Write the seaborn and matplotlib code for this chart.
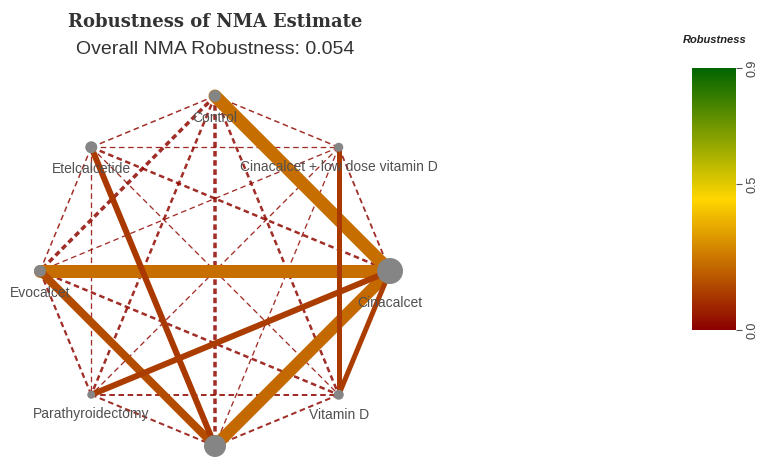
import numpy as np
import pandas as pd
import matplotlib
matplotlib.use("Agg")
import matplotlib.pyplot as plt
import seaborn as sns
from matplotlib.colors import LinearSegmentedColormap, Normalize
import matplotlib as mpl

# nodes, clockwise from the top
treatments = ["Control", "Cinacalcet + low dose vitamin D", "Cinacalcet", "Vitamin D",
              "", "Parathyroidectomy", "Evocalcet", "Etelcalcetide"]
node_weight = [6, 4.5, 13, 5, 11, 4, 6, 6]

# direct comparisons (solid)
direct_from = ["Control", "Evocalcet", "", "Evocalcet", "Etelcalcetide",
               "Parathyroidectomy", "Cinacalcet + low dose vitamin D", "Vitamin D"]
direct_to = ["Cinacalcet", "Cinacalcet", "Cinacalcet", "", "",
             "Cinacalcet", "Vitamin D", "Cinacalcet"]
direct_robust = [0.23, 0.23, 0.22, 0.16, 0.12, 0.13, 0.12, 0.13]
direct_weight = [13, 13, 12, 8, 6, 6, 5, 5]

# indirect comparisons (dashed)
indirect_from = ["Control", "Control", "Control", "Control", "Control", "Control",
                 "Etelcalcetide", "Etelcalcetide", "Etelcalcetide", "Etelcalcetide", "Etelcalcetide",
                 "Cinacalcet + low dose vitamin D", "Cinacalcet + low dose vitamin D",
                 "Cinacalcet + low dose vitamin D", "Cinacalcet + low dose vitamin D",
                 "Evocalcet", "Evocalcet", "Parathyroidectomy", "Parathyroidectomy", "Vitamin D"]
indirect_to = ["", "Evocalcet", "Parathyroidectomy", "Vitamin D", "Etelcalcetide",
               "Cinacalcet + low dose vitamin D",
               "Cinacalcet + low dose vitamin D", "Cinacalcet", "Vitamin D", "Evocalcet",
               "Parathyroidectomy",
               "Evocalcet", "Parathyroidectomy", "", "Cinacalcet",
               "Vitamin D", "Parathyroidectomy", "", "Vitamin D", ""]
indirect_robust = [0.02] * 20
indirect_weight = [3.5, 3.5, 2.5, 2.5, 1.5, 1.5,
                   1.3, 2.5, 1.3, 1.5, 1.3,
                   1.3, 1.3, 1.3, 1.8,
                   2.5, 2.2, 2.0, 2.0, 2.0]

overall = 0.054

sns.set_theme(style="white")
plt.rcParams["font.family"] = ["Liberation Sans", "DejaVu Sans"]
plt.rcParams["lines.scale_dashes"] = False

cmap = LinearSegmentedColormap.from_list("rob", ["#8B0000", "#FFD700", "#006400"])
norm = Normalize(0, 0.9)

W, H = 763, 458
fig = plt.figure(figsize=(W / 100, H / 100), dpi=100)
R = 175  # px per unit
cx, cy = 215, 271
ax = fig.add_axes([(cx - 1.3 * R) / W, (H - cy - 1.3 * R) / H, 2.6 * R / W, 2.6 * R / H])
ax.set_xlim(-1.3, 1.3)
ax.set_ylim(-1.3, 1.3)
ax.axis("off")

ang = np.pi / 2 - np.arange(len(treatments)) * np.pi / 4
nodes = pd.DataFrame({"name": treatments, "x": np.cos(ang), "y": np.sin(ang),
                      "w": node_weight})
pos = {n: (x, y) for n, x, y in zip(nodes.name, nodes.x, nodes.y)}

px = 0.72
for a, b, r, w in zip(indirect_from, indirect_to, indirect_robust, indirect_weight):
    (x1, y1), (x2, y2) = pos[a], pos[b]
    ax.plot([x1, x2], [y1, y2], color=cmap(norm(r)), lw=w * px, alpha=0.85,
            dashes=(4, 2.6), zorder=1)

for a, b, r, w in zip(direct_from, direct_to, direct_robust, direct_weight):
    (x1, y1), (x2, y2) = pos[a], pos[b]
    ax.plot([x1, x2], [y1, y2], color=cmap(norm(r)), lw=w * px,
            solid_capstyle="round", zorder=2)

sizes = [(2 * r * px) ** 2 for r in node_weight]
sns.scatterplot(data=nodes, x="x", y="y", size="w", sizes=(min(sizes), max(sizes)),
                size_norm=(min(node_weight), max(node_weight)),
                color="#858585", edgecolor="none", legend=False, zorder=3, ax=ax)
# seaborn maps linearly between min/max sizes; set exact areas
ax.collections[-1].set_sizes(sizes)
ax.set_xlabel("")
ax.set_ylabel("")

for n, x, y, r in zip(nodes.name, nodes.x, nodes.y, nodes.w):
    if not n:
        continue
    ax.annotate(n, (x, y), xytext=(0, -(14 + 1.35 * r) * px), textcoords="offset points",
                ha="center", va="center", fontsize=10, color="#505050", zorder=4)

fig.text(cx / W, 1 - 22 / H, "Robustness of NMA Estimate", ha="center", va="center",
         fontsize=13, fontweight="bold", family="DejaVu Serif", color="#333333")
fig.text(cx / W, 1 - 49 / H, f"Overall NMA Robustness: {overall:.3f}", ha="center",
         va="center", fontsize=14, color="#333333")

cax = fig.add_axes([692 / W, (H - 330) / H, 44 / W, 262 / H])
cb = mpl.colorbar.ColorbarBase(cax, cmap=cmap, norm=norm, ticks=[0, 0.5, 0.9])
cb.outline.set_visible(False)
cb.set_ticklabels(["0.0", "0.5", "0.9"])
cax.tick_params(axis="y", length=4, width=0.8, color="#555555", labelsize=9,
                labelcolor="#444444", labelrotation=90, right=True)
for t in cax.get_yticklabels():
    t.set_va("center")
fig.text(715 / W, 1 - 40 / H, "Robustness", ha="center", va="center", fontsize=8,
         fontweight="bold", fontstyle="italic", color="#222222")

fig.savefig("out.png", dpi=100)
